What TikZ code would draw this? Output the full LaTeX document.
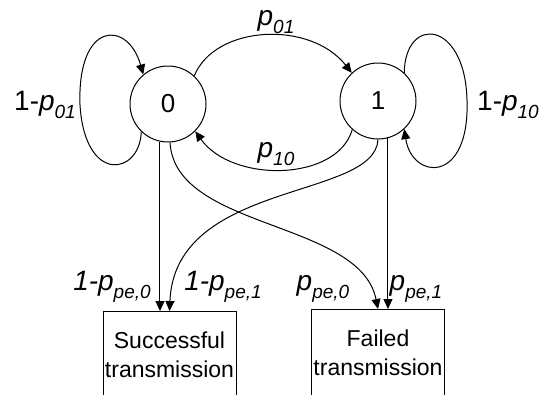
\documentclass[tikz,border=0pt]{standalone}
\usepackage{fontspec}
\setmainfont{Liberation Sans}
\usetikzlibrary{arrows.meta}
% italic subscript, lowered below the baseline
\newcommand\lsub[1]{\raisebox{-8pt}{\fontsize{19}{19}\selectfont\itshape #1}}
\begin{document}
\begin{tikzpicture}[x=1pt,y=-1pt,
  state/.style={draw,circle,line width=1pt,minimum size=76pt,inner sep=0pt,
    font=\fontsize{26}{26}\selectfont},
  outcome/.style={draw,line width=1pt,minimum width=133pt,minimum height=86pt,
    anchor=north,inner sep=0pt,align=center,font=\fontsize{23}{29}\selectfont},
  lbl/.style={anchor=base,inner sep=0pt,font=\fontsize{28}{28}\selectfont},
  edge/.style={line width=1pt,-{Triangle[length=10pt,width=9pt]}}]
\useasboundingbox (0,0) rectangle (541,394);
\clip (0,0) rectangle (541,394);

% states of the channel
\node[state] (c0) at (168,104) {0};
\node[state] (c1) at (378,101) {1};

% outcomes
\node[outcome] (s) at (169.5,311) {Successful\\transmission};
\node[outcome] (f) at (378,309) {Failed\\transmission};

% transitions between states
\draw[edge] (c0.47) .. controls (215,25) and (310,20) .. (c1.133);
\draw[edge] (c1.228) .. controls (337,182) and (232,183) .. (c0.-45);

% self loops
\coordinate (w0) at (80,105);
\coordinate (w1) at (467,100);
\draw[edge] (c0.226) .. controls (140,175) and (85,185) .. (w0)
  .. controls (77,20) and (128,20) .. (c0.130);
\draw[edge] (c1.47) .. controls (405,15) and (465,20) .. (w1)
  .. controls (470,185) and (412,180) .. (c1.-47);

% transmission outcomes
\draw[edge] (c0.258) -- (c0.258 |- s.north);
\draw[edge] (c1.285) -- (c1.285 |- f.north);
\draw[edge] (c1.-90) .. controls (375,200) and (175,180) .. (s.north);
\draw[edge] (c0.-87) .. controls (175,230) and (360,220) .. (f.north);

% probabilities
\node[lbl] (l01) at (276,25) {\textit{p}\lsub{01}};
\node[lbl] (l10) at (276,157) {\textit{p}\lsub{10}};
\node[lbl] (l00) at (45,110) {1-\textit{p}\lsub{01}};
\node[lbl] (l11) at (508,110) {1-\textit{p}\lsub{10}};
\node[lbl] (ls0) at (112,290) {\textit{1-p}\lsub{pe,0}};
\node[lbl] (ls1) at (223,290) {\textit{1-p}\lsub{pe,1}};
\node[lbl] (lf0) at (323,290) {\textit{p}\lsub{pe,0}};
\node[lbl] (lf1) at (416,290) {\textit{p}\lsub{pe,1}};
\end{tikzpicture}
\end{document}
